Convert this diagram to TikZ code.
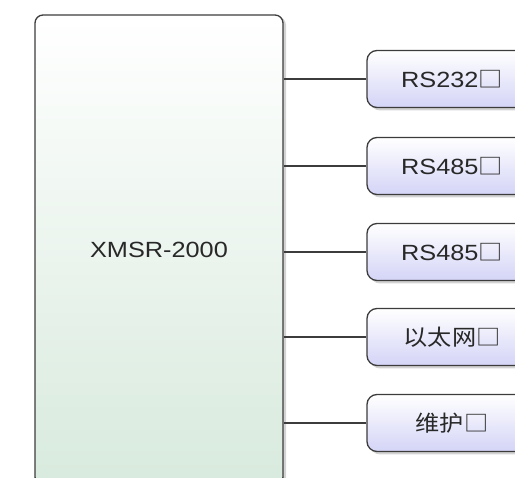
\documentclass[tikz,border=0pt]{standalone}
\usepackage{fontspec}
\setmainfont[FakeStretch=1.15]{Liberation Sans}
\newfontfamily\cjk[FakeStretch=1.1]{Noto Sans CJK SC}
\usetikzlibrary{shadows}
\definecolor{mainbot}{RGB}{216,234,221}
\definecolor{portbot}{RGB}{212,212,247}
\definecolor{edgegray}{RGB}{60,60,60}
\definecolor{textgray}{RGB}{40,40,40}
\tikzset{
  mainbox/.style={draw=edgegray, line width=1.3pt, rounded corners=8pt,
    top color=white, bottom color=mainbot, minimum width=248pt, minimum height=470pt,
    drop shadow={shadow xshift=3pt, shadow yshift=-2pt, opacity=0.35},
    font=\fontsize{22}{25}\selectfont, text=textgray, inner sep=0pt},
  portbox/.style={draw=edgegray, line width=1.3pt, rounded corners=10pt,
    top color=white, bottom color=portbot, minimum width=170pt, minimum height=57pt,
    drop shadow={shadow xshift=3pt, shadow yshift=-3pt, opacity=0.35},
    font=\fontsize{22}{25}\selectfont, text=textgray, inner sep=0pt},
  link/.style={draw=edgegray, line width=1.2pt}
}
\begin{document}
\begin{tikzpicture}[x=1pt,y=-1pt]
\useasboundingbox (0,0) rectangle (515,478);
\clip (0,0) rectangle (515,478);
\node[mainbox] (main) at (159,250) {XMSR-2000};
\node[portbox] (p1) at (452,79) {RS232\cjk{□}};
\node[portbox] (p2) at (452,166) {RS485\cjk{□}};
\node[portbox] (p3) at (452,252) {RS485\cjk{□}};
\node[portbox] (p4) at (452,337) {\cjk{以太网□}};
\node[portbox] (p5) at (452,423) {\cjk{维护□}};
\foreach \p in {p1,p2,p3,p4,p5}
  \draw[link] (main.east |- \p.west) -- (\p.west);
\end{tikzpicture}
\end{document}
